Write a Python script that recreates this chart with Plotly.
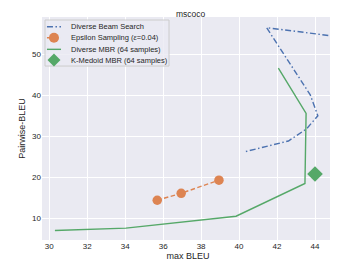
import plotly.graph_objects as go

dbs_x = [44.7, 41.45, 43.75, 44.15, 43.55, 42.6, 40.27]
dbs_y = [54.6, 56.5, 40.1, 35.0, 31.8, 28.85, 26.2]

eps_x = [35.69, 36.95, 38.94]
eps_y = [14.4, 16.1, 19.3]

mbr_x = [30.3, 34.04, 39.84, 43.47, 43.53, 42.07]
mbr_y = [7.0, 7.6, 10.5, 18.5, 35.6, 46.6]

kmed_x = [44.0]
kmed_y = [20.8]

series_names = ["Diverse Beam Search", "Epsilon Sampling (<i>ε</i>=0.04)",
                "Diverse MBR (64 samples)", "K-Medoid MBR (64 samples)"]

BLUE = "#4C72B0"
ORANGE = "#DD8452"
GREEN = "#55A868"
DBS_DASH = "6px,2.5px,1.5px,2.5px"
EPS_DASH = "4.5px,2.5px"

fig = go.Figure()
fig.add_trace(go.Scatter(x=dbs_x, y=dbs_y, mode="lines", name=series_names[0],
                         line=dict(color=BLUE, width=1.4, dash=DBS_DASH)))
fig.add_trace(go.Scatter(x=eps_x, y=eps_y, mode="lines+markers", name=series_names[1],
                         line=dict(color=ORANGE, width=1.4, dash=EPS_DASH),
                         marker=dict(color=ORANGE, size=9.5)))
fig.add_trace(go.Scatter(x=mbr_x, y=mbr_y, mode="lines", name=series_names[2],
                         line=dict(color=GREEN, width=1.4)))
fig.add_trace(go.Scatter(x=kmed_x, y=kmed_y, mode="markers", name=series_names[3],
                         marker=dict(color=GREEN, size=12, symbol="diamond")))

# Manual compact legend (matplotlib style)
shapes = []
annotations = []
shapes.append(dict(type="rect", xref="paper", yref="paper", x0=0.0103, x1=0.435,
                   y0=0.780, y1=0.9865, fillcolor="rgba(234,234,242,0.8)",
                   line=dict(color="#CCCCCC", width=1), layer="above"))
row_y = [0.9565, 0.907, 0.855, 0.807]
hx0, hx1, hxm = 0.017, 0.065, 0.041
shapes.append(dict(type="line", xref="paper", yref="paper", x0=hx0, x1=hx1, y0=row_y[0], y1=row_y[0],
                   line=dict(color=BLUE, width=1.4, dash=DBS_DASH), layer="above"))
shapes.append(dict(type="line", xref="paper", yref="paper", x0=hx0, x1=hx1, y0=row_y[1], y1=row_y[1],
                   line=dict(color=ORANGE, width=1.4, dash=EPS_DASH), layer="above"))
shapes.append(dict(type="circle", xref="paper", yref="paper", xsizemode="pixel", ysizemode="pixel",
                   xanchor=hxm, yanchor=row_y[1], x0=-5, x1=5, y0=-5, y1=5,
                   fillcolor=ORANGE, line=dict(width=0), layer="above"))
shapes.append(dict(type="line", xref="paper", yref="paper", x0=hx0, x1=hx1, y0=row_y[2], y1=row_y[2],
                   line=dict(color=GREEN, width=1.4), layer="above"))
shapes.append(dict(type="path", xref="paper", yref="paper", xsizemode="pixel", ysizemode="pixel",
                   xanchor=hxm, yanchor=row_y[3], path="M 0 6.5 L 6.5 0 L 0 -6.5 L -6.5 0 Z",
                   fillcolor=GREEN, line=dict(width=0), layer="above"))
for name, yy in zip(series_names, row_y):
    annotations.append(dict(xref="paper", yref="paper", x=0.0925, y=yy, text=name,
                            showarrow=False, xanchor="left", yanchor="middle",
                            font=dict(size=7.5, color="#262626")))
# Title
annotations.append(dict(xref="paper", yref="paper", x=0.51, y=1.0, text="mscoco",
                        showarrow=False, xanchor="center", yanchor="top", yshift=9.5,
                        borderpad=0, font=dict(size=8.5, color="#262626")))

# The page body has an 8px default margin, so the figure is sized to fit inside it.
fig.update_layout(
    width=330, height=264,
    margin=dict(l=34, r=4, t=9, b=32),
    paper_bgcolor="white", plot_bgcolor="#EAEAF2",
    font=dict(family="Liberation Sans, Arial, sans-serif", size=8, color="#262626"),
    showlegend=False,
    shapes=shapes, annotations=annotations,
)
fig.update_xaxes(range=[29.62, 45.0], tickvals=[30, 32, 34, 36, 38, 40, 42, 44],
                 showgrid=True, gridcolor="white", gridwidth=1, zeroline=False, automargin=False,
                 showline=False, ticks="", title=dict(text="max BLEU", font=dict(size=9), standoff=0),
                 tickfont=dict(size=8))
fig.update_yaxes(range=[4.7, 59.1], tickvals=[10, 20, 30, 40, 50],
                 showgrid=True, gridcolor="white", gridwidth=1, zeroline=False, automargin=False,
                 showline=False, ticks="", title=dict(text="Pairwise-BLEU", font=dict(size=9), standoff=4),
                 tickfont=dict(size=8))

fig.write_html("out.html")
